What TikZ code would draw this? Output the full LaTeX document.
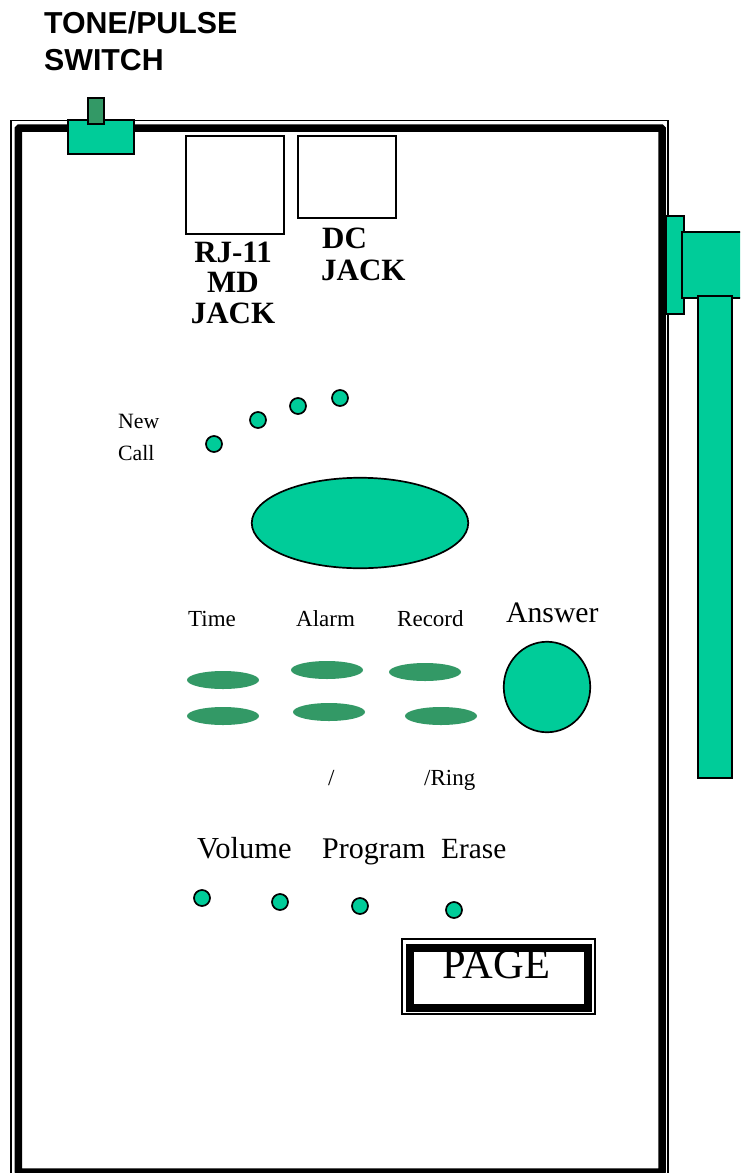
\documentclass[tikz,border=0pt]{standalone}
\usepackage{fontspec}
\setmainfont{Liberation Serif}
\newfontfamily\headfont{Liberation Sans}
\usetikzlibrary{shapes.geometric}
\definecolor{panel}{HTML}{00CC99}
\definecolor{keyg}{HTML}{339966}
\newcommand{\fs}[1]{\fontsize{#1}{#1}\selectfont}
\tikzset{
  part/.style={rectangle,draw=black,fill=panel,line width=1.7pt,inner sep=0pt},
  jack/.style={rectangle,draw=black,fill=white,line width=1.7pt,inner sep=0pt},
  led/.style={circle,draw=black,fill=panel,line width=1.7pt,inner sep=0pt,minimum size=16},
  keyb/.style={ellipse,fill=keyg,inner sep=0pt,minimum width=72,minimum height=18},
  bigb/.style={ellipse,draw=black,fill=panel,line width=1.7pt,inner sep=0pt},
  lab/.style={anchor=base west,inner sep=0pt},
  small/.style={lab,font=\fs{23}},
  large/.style={lab,font=\fs{30}},
  jacklab/.style={anchor=base,inner sep=0pt,font=\fs{31}\bfseries}
}
\begin{document}
\begin{tikzpicture}[x=1pt,y=-1pt]
  \clip (0,0) rectangle (740,1173);
  \fill[white] (0,0) rectangle (740,1173);
  \node[lab,font=\fs{30.3}\headfont\bfseries] (tone) at (44,33) {TONE/PULSE};
  \node[lab,font=\fs{30.3}\headfont\bfseries] (switch) at (44,70) {SWITCH};
  % case
  \draw[line width=1.9pt] (10.8,120.5) rectangle (667.8,1190);
  \draw[line width=7.5pt,rounded corners=1pt] (18.4,128) rectangle (662,1172);
  \node[part,minimum width=66,minimum height=34] (base) at (101,137) {};
  \node[part,fill=keyg,minimum width=16,minimum height=26] (slider) at (96,111) {};
  \node[jack,minimum width=98,minimum height=98] (rj) at (235,185) {};
  \node[jack,minimum width=98,minimum height=82] (dc) at (347,177) {};
  \node[jacklab] (rjlab) at (233,262) {RJ-11};
  \node[jacklab] (mdlab) at (233,292) {MD};
  \node[jacklab] (jacka) at (233,323) {JACK};
  \node[jacklab,anchor=base west] (dclab) at (322,248) {DC};
  \node[jacklab,anchor=base west] (jackb) at (321,280) {JACK};
  % handset
  \node[part,minimum width=18,minimum height=98] (plate) at (675,265) {};
  \node[part,minimum width=60,minimum height=66] (head) at (712,265) {};
  \node[part,minimum width=34,minimum height=482] (arm) at (715,537) {};
  % lights
  \foreach \nm/\px/\py in {a/214/444,b/258/420,c/298/406,d/340/398,e/202/898,f/280/902,g/360/906,h/454/910}
    \node[led] (led\nm) at (\px,\py) {};
  \node[lab,font=\fs{21.8}] (new) at (118,428) {New};
  \node[lab,font=\fs{21.8}] (call) at (118,460) {Call};
  \node[bigb,minimum width=216.5,minimum height=90.5] (speaker) at (360,523) {};
  \node[small] (time) at (188,626) {Time};
  \node[small] (alarm) at (296,626) {Alarm};
  \node[small] (record) at (397,626) {Record};
  \node[lab,font=\fs{29.7}] (answer) at (506,622) {Answer};
  \foreach \nm/\px/\py in {a/223/680,b/327/670,c/425/672,d/223/716,e/329/712,f/441/716}
    \node[keyb] (key\nm) at (\px,\py) {};
  \node[bigb,minimum width=86.5,minimum height=90.5] (answerb) at (547,687) {};
  \node[small] (slash) at (328,785) {/};
  \node[small] (ring) at (424,785) {/Ring};
  \node[lab,font=\fs{30.5}] (volume) at (197,858) {Volume};
  \node[large] (program) at (322,858) {Program};
  \node[lab,font=\fs{29.3}] (erase) at (441,858) {Erase};
  % page button
  \node[jack,fill=none,minimum width=193,minimum height=75] (pageo) at (498.5,976.5) {};
  \node[anchor=base,inner sep=0pt,font=\fs{42.5}] (page) at (496.5,978) {PAGE};
  \node[rectangle,draw=black,line width=8pt,inner sep=0pt,minimum width=178,minimum height=60] (pagei) at (499,978) {};
\end{tikzpicture}
\end{document}
